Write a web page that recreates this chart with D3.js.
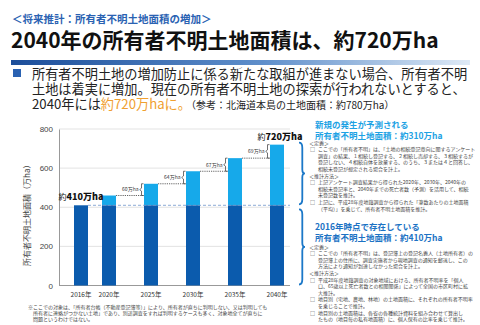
<!DOCTYPE html>
<html>
<head>
<meta charset="utf-8">
<script src="https://cdn.jsdelivr.net/npm/d3@7"></script>
<style>
  html, body { margin: 0; padding: 0; background: #fff; }
  svg { display: block; font-family: "Noto Sans CJK JP", "Noto Sans", sans-serif; }
</style>
</head>
<body>
<div id="chart"></div>
<script>
var svgWidth = 480;
var svgHeight = 325;

// Data
var yearLabels = ["2016年", "2020年", "2025年", "2030年", "2035年", "2040年"];
var years = [2016, 2020, 2025, 2030, 2035, 2040];
var totals = [410, 460, 520, 584, 651, 720];   // 万ha
var existing = 410;                             // 2016年時点で存在している面積
var yTicks = [0, 200, 400, 600, 800];

var darkBlue = "#0b5bad";
var lightBlue = "#16a9ea";

var svg = d3.select("#chart").append("svg")
    .attr("width", svgWidth)
    .attr("height", svgHeight);

// Gradient for the rule under the title
var defs = svg.append("defs");
var grad = defs.append("linearGradient").attr("id", "rule");
grad.append("stop").attr("offset", "0%").attr("stop-color", "#1c4e9a");
grad.append("stop").attr("offset", "55%").attr("stop-color", "#5f8fcb");
grad.append("stop").attr("offset", "100%").attr("stop-color", "#dfeaf6");

// Header texts
svg.append("text")
    .attr("x", 12).attr("y", 23)
    .style("font-size", "10.5px").style("font-weight", "bold")
    .style("fill", "#2a62b2")
    .text("＜将来推計：所有者不明土地面積の増加＞");

svg.append("text")
    .attr("x", 11).attr("y", 48)
    .style("font-size", "21px").style("font-weight", "bold")
    .style("fill", "#111")
    .text("2040年の所有者不明土地面積は、約720万ha");

svg.append("rect")
    .attr("x", 11).attr("y", 60).attr("width", 459).attr("height", 5)
    .attr("fill", "url(#rule)");

svg.append("rect")
    .attr("x", 13).attr("y", 69).attr("width", 8).attr("height", 8)
    .attr("fill", "#2a62b2");

var bulletLines = [
    "所有者不明土地の増加防止に係る新たな取組が進まない場合、所有者不明",
    "土地は着実に増加。現在の所有者不明土地の探索が行われないとすると、"
];
svg.selectAll(".bullet").data(bulletLines).enter().append("text")
    .attr("class", "bullet")
    .attr("x", 32).attr("y", (d, i) => 78.5 + i * 15)
    .style("font-size", "13.2px").style("fill", "#222")
    .text(d => d);

var line3 = svg.append("text").attr("x", 32).attr("y", 108.5)
    .style("font-size", "13.2px").style("fill", "#222");
line3.append("tspan").text("2040年には");
line3.append("tspan").style("fill", "#f0a030").text("約720万haに。");
line3.append("tspan").style("font-size", "10px").text("（参考：北海道本島の土地面積：約780万ha）");

// Scales
var xScale = d3.scaleLinear()
    .domain([2016, 2020, 2040])
    .range([81, 109, 277]);
var yScale = d3.scaleLinear()
    .domain([0, 800])
    .range([285.5, 129]);
var barW = 14;
var plotLeft = 59, plotRight = 290;

// Gridlines
svg.append("g").selectAll("line").data(yTicks.slice(1)).enter().append("line")
    .attr("x1", plotLeft).attr("x2", plotRight)
    .attr("y1", d => yScale(d)).attr("y2", d => yScale(d))
    .attr("stroke", "#dcdcdc").attr("stroke-width", 0.8);

// Y axis
var leftAxis = d3.axisLeft(yScale).tickValues(yTicks).tickSize(0).tickPadding(6);
var yAxisG = svg.append("g")
    .attr("transform", `translate(${plotLeft},0)`)
    .call(leftAxis);
yAxisG.select(".domain").attr("stroke", "#999");
yAxisG.selectAll("text")
    .style("font-size", "8px").style("fill", "#444")
    .style("font-family", "Liberation Sans, Arial, sans-serif");

svg.append("line")
    .attr("x1", plotLeft).attr("x2", plotRight)
    .attr("y1", yScale(0)).attr("y2", yScale(0))
    .attr("stroke", "#999").attr("stroke-width", 1);

svg.append("text")
    .attr("transform", `translate(30, ${yScale(400) + 6}) rotate(-90)`)
    .attr("text-anchor", "middle")
    .style("font-size", "8px").style("fill", "#444")
    .text("所有者不明土地面積（万ha）");

// X labels
svg.append("g").selectAll("text").data(years).enter().append("text")
    .attr("x", d => xScale(d)).attr("y", 297)
    .attr("text-anchor", "middle")
    .style("font-size", "6.5px").style("fill", "#333")
    .text((d, i) => yearLabels[i]);

// Bars: new part (light) and existing part (dark)
var bars = svg.append("g");
bars.selectAll(".new").data(years).enter().append("rect")
    .attr("x", d => xScale(d) - barW / 2)
    .attr("width", barW)
    .attr("y", (d, i) => yScale(totals[i]))
    .attr("height", (d, i) => yScale(existing) - yScale(totals[i]))
    .attr("fill", lightBlue);
bars.selectAll(".old").data(years).enter().append("rect")
    .attr("x", d => xScale(d) - barW / 2)
    .attr("width", barW)
    .attr("y", yScale(existing))
    .attr("height", yScale(0) - yScale(existing))
    .attr("fill", darkBlue);

// Dashed line at the 2016 level
svg.append("line")
    .attr("x1", xScale(2016) + barW / 2).attr("x2", plotRight)
    .attr("y1", yScale(existing)).attr("y2", yScale(existing))
    .attr("stroke", "#6f95cc").attr("stroke-width", 0.8)
    .attr("stroke-dasharray", "3,2");

// Increment markers between consecutive bars (from 2020 on)
var steps = d3.range(2, years.length);
var stepG = svg.append("g");
steps.forEach(function (i) {
    var prevTop = yScale(totals[i - 1]);
    var top = yScale(totals[i]);
    var bx = xScale(years[i]) - barW / 2 - 2.5;
    var mid = (prevTop + top) / 2;
    stepG.append("line")
        .attr("x1", xScale(years[i - 1]) + barW / 2).attr("x2", xScale(years[i]) - barW / 2)
        .attr("y1", prevTop).attr("y2", prevTop)
        .attr("stroke", "#222").attr("stroke-width", 0.7)
        .attr("stroke-dasharray", "1.2,1");
    stepG.append("path")
        .attr("d", `M${bx + 2},${top} H${bx} V${mid - 1.5} L${bx - 1.8},${mid} L${bx},${mid + 1.5} V${prevTop} H${bx + 2}`)
        .attr("fill", "none").attr("stroke", "#333").attr("stroke-width", 0.7);
    stepG.append("text")
        .attr("x", bx - 3).attr("y", mid + 1.8)
        .attr("text-anchor", "end")
        .style("font-size", "5px").style("fill", "#333")
        .text((totals[i] - totals[i - 1]) + "万ha");
});

// Value labels on first and last bars
function valueLabel(x, y, v) {
    var t = svg.append("text").attr("x", x).attr("y", y)
        .attr("text-anchor", "middle").style("fill", "#111");
    t.append("tspan").style("font-size", "8px").text("約");
    t.append("tspan").style("font-size", "9px").style("font-weight", "900").text(v + "万ha");
}
valueLabel(xScale(2016), yScale(totals[0]) - 5, totals[0]);
valueLabel(xScale(2040) + 3, yScale(totals[5]) - 5, totals[5]);

// Braces on the right
function brace(x, y0, y1, w) {
    var m = (y0 + y1) / 2, c = x + w * 0.55;
    return `M${x},${y0} Q${c},${y0} ${c},${y0 + 5} L${c},${m - 4} Q${c},${m} ${x + w},${m}` +
        ` Q${c},${m} ${c},${m + 4} L${c},${y1 - 5} Q${c},${y1} ${x},${y1}`;
}
svg.append("path")
    .attr("d", brace(299, yScale(totals[5]) - 2, yScale(existing) - 1, 6))
    .attr("fill", "none").attr("stroke", "#1b78c8").attr("stroke-width", 1.8);
svg.append("path")
    .attr("d", brace(299, yScale(existing) + 4, yScale(0) - 1, 6))
    .attr("fill", "none").attr("stroke", "#1b78c8").attr("stroke-width", 1.8);

// Notes on the right
function heading(lines, y, color) {
    svg.selectAll(null).data(lines).enter().append("text")
        .attr("x", 315).attr("y", (d, i) => y + i * 11)
        .style("font-size", "8.5px").style("font-weight", "bold")
        .style("fill", color)
        .text(d => d);
}
function note(items, y) {
    var g = svg.append("g").style("font-size", "5px").style("fill", "#444");
    items.forEach(function (item) {
        if (item.label) {
            g.append("text").attr("x", 309).attr("y", y + 1.7).text(item.label);
            y += 6.5;
        } else {
            g.append("text").attr("x", 310).attr("y", y + 1.7).text("□");
            item.lines.forEach(function (l) {
                g.append("text").attr("x", 318).attr("y", y + 1.7).text(l);
                y += 6.6;
            });
        }
    });
}

heading(["新規の発生が予測される", "所有者不明土地面積：約310万ha"], 128, "#1ca2e4");
note([
    { label: "＜定義＞" },
    { lines: ["ここでの「所有者不明」は、「土地の相続登記意向に関するアンケート",
              "調査」の結果、１相続し登記する、２相続し売却する、３相続するが",
              "登記しない、４相続自体を放棄する、のうち、３または４と回答し、",
              "相続未登記が想定される場合を計上。"] },
    { label: "＜推計方法＞" },
    { lines: ["上記アンケート調査結果から得られた2020年、2030年、2040年の",
              "相続未登記率と、2040年までの死亡者数（予測）を活用して、相続",
              "未登記数を推計。"] },
    { lines: ["上記に、平成28年度地籍調査から得られた「筆数あたりの土地面積",
              "（平均）」を乗じて、所有者不明土地面積を推計。"] }
], 143);

heading(["2016年時点で存在している", "所有者不明土地面積：約410万ha"], 230, "#1b72c4");
note([
    { label: "＜定義＞" },
    { lines: ["ここでの「所有者不明」は、登記簿上の登記名義人（土地所有者）の",
              "登記簿上の住所に、調査実施者から現地調査の通知を郵送し、この",
              "方法により通知が到達しなかった場合を計上。"] },
    { label: "＜推計方法＞" },
    { lines: ["平成28年度地籍調査の対象地域における、所有者不明率を「個人",
              "口、65歳以上死亡者数との相関関係」によって全国の市区町村に拡",
              "大推計。"] },
    { lines: ["地目別（宅地、農地、林地）の土地面積に、それぞれの所有者不明率",
              "を乗じることで推計。"] },
    { lines: ["地目別の土地面積は、各省の各種統計資料を組み合わせて算出し",
              "たもの（地目毎の私有地面積）に、個人保有の比率を乗じて推計。"] }
], 247);

// Footnote
var foot = [
    "※ここでの対象は、「所有者台帳（不動産登記簿等）」により、所有者が直ちに判明しない、又は判明しても",
    "所有者に連絡がつかない土地」であり、別途調査をすれば判明するケースも多く、対象地全てが直ちに",
    "問題というわけではない。"
];
svg.append("g").selectAll("text").data(foot).enter().append("text")
    .attr("x", (d, i) => i === 0 ? 28 : 33)
    .attr("y", (d, i) => 308.5 + i * 6.4)
    .style("font-size", "5px").style("fill", "#444")
    .text(d => d);
</script>
</body>
</html>
